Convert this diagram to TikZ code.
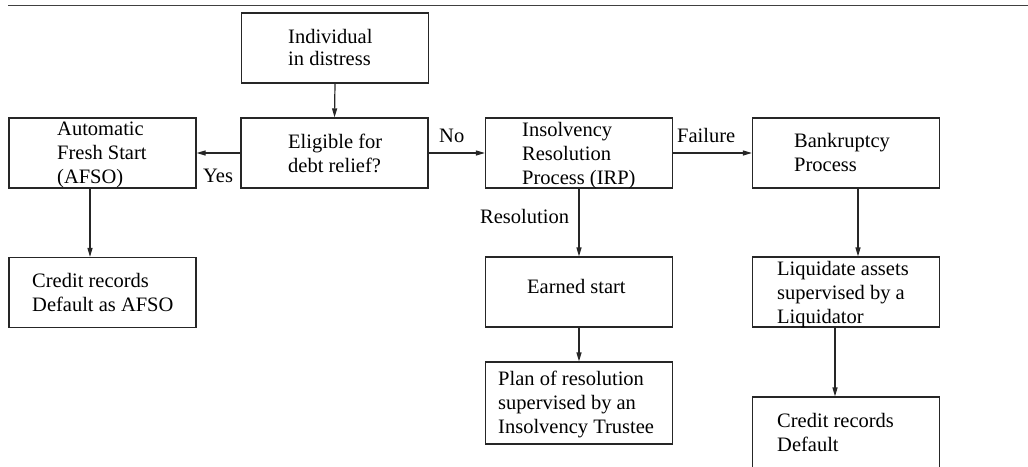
\documentclass[tikz,border=0pt]{standalone}
\usepackage{fontspec}
\setmainfont{Liberation Serif}
\usepackage{tikz}
\usetikzlibrary{arrows.meta}
\newcommand{\lines}[1]{\begin{tabular}[t]{@{}l@{}}#1\end{tabular}}

\begin{document}
\begin{tikzpicture}[x=1pt, y=-1pt, every node/.style={font=\fontsize{20.5}{24}\selectfont}, >={Triangle[length=9pt,width=5pt]},
	box/.style={draw=black!85, line width=1.2pt, minimum width=187pt, minimum height=70pt, inner sep=0pt},
	txt/.style={anchor=base west, inner sep=0pt},
	link/.style={->, black!85, line width=1.2pt}]
	\useasboundingbox (0,0) rectangle (1028,466);
	\draw[black!75, line width=1.8pt] (8,5.5) -- (1028,5.5);
	\node[box] (indiv) at (335,48) {};
	\node[box] (afso) at (102.5,153) {};
	\node[box] (elig) at (334.5,153) {};
	\node[box] (irp) at (579,153) {};
	\node[box] (bank) at (846,153) {};
	\node[box] (credA) at (102.5,292.5) {};
	\node[box] (earned) at (579,292) {};
	\node[box, minimum height=82pt] (plan) at (579,403) {};
	\node[box] (liq) at (846,292) {};
	\node[box, minimum height=90pt] (credD) at (846,442) {};
	\node[txt] (indivtxt) at (288,43) {\lines{Individual\\[-2pt]in distress}};
	\node[txt] (afsotxt) at (57,135) {\lines{Automatic\\Fresh Start\\(AFSO)}};
	\node[txt] (eligtxt) at (288,148) {\lines{Eligible for\\debt relief?}};
	\node[txt] (irptxt) at (522,136) {\lines{Insolvency\\Resolution\\Process (IRP)}};
	\node[txt] (banktxt) at (794,147) {\lines{Bankruptcy\\Process}};
	\node[txt] (credAtxt) at (32,287) {\lines{Credit records\\Default as AFSO}};
	\node[txt] (earnedtxt) at (527,293) {Earned start};
	\node[txt] (plantxt) at (498,385) {\lines{Plan of resolution\\supervised by an\\Insolvency Trustee}};
	\node[txt] (liqtxt) at (777,275) {\lines{Liquidate assets\\supervised by a\\Liquidator}};
	\node[txt] (credDtxt) at (777,427) {\lines{Credit records\\Default}};
	\node[txt] (yes) at (203,182) {Yes};
	\node[txt] (no) at (439,142) {No};
	\node[txt] (fail) at (677,142) {Failure};
	\node[txt] (resol) at (480,223) {Resolution};
	\draw[link] (indiv.south) -- (elig.north);
	\draw[link] (elig.west) -- (afso.east);
	\draw[link] (elig.east) -- (irp.west);
	\draw[link] (irp.east) -- (bank.west);
	\draw[link] ([xshift=-12.5pt]afso.south) -- ([xshift=-12.5pt]credA.north);
	\draw[link] (irp.south) -- (earned.north);
	\draw[link] (earned.south) -- (plan.north);
	\draw[link] ([xshift=12pt]bank.south) -- ([xshift=12pt]liq.north);
	\draw[link] ([xshift=-11pt]liq.south) -- ([xshift=-11pt]credD.north);
\end{tikzpicture}
\end{document}
